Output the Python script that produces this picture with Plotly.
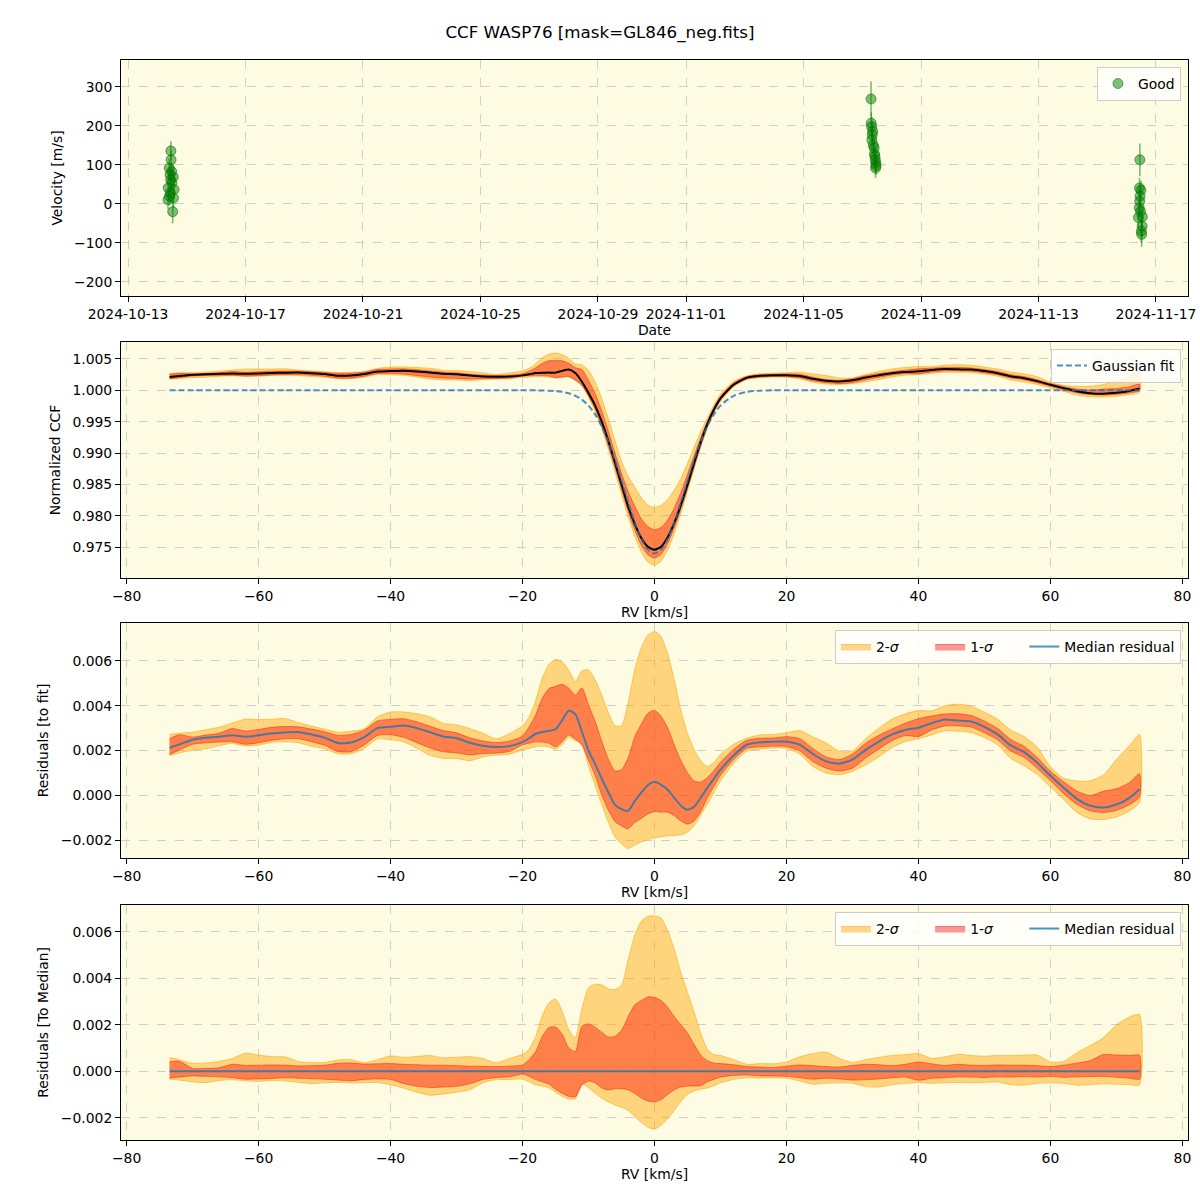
import plotly.graph_objects as go
from plotly.subplots import make_subplots

# ---------- RV time series (top panel) ----------
obs_time = [
    "2024-10-14 11:00", "2024-10-14 11:10", "2024-10-14 09:40", "2024-10-14 11:40",
    "2024-10-14 10:20", "2024-10-14 13:00", "2024-10-14 10:50", "2024-10-14 11:50",
    "2024-10-14 08:50", "2024-10-14 13:40", "2024-10-14 10:30", "2024-10-14 09:50",
    "2024-10-14 13:10", "2024-10-14 08:40", "2024-10-14 12:30",
    "2024-11-07 07:10", "2024-11-07 07:20", "2024-11-07 07:40", "2024-11-07 08:30",
    "2024-11-07 08:10", "2024-11-07 07:50", "2024-11-07 09:00", "2024-11-07 09:40",
    "2024-11-07 10:00", "2024-11-07 10:20", "2024-11-07 10:40", "2024-11-07 11:00",
    "2024-11-07 11:20", "2024-11-07 10:50",
    "2024-11-16 10:50", "2024-11-16 10:30", "2024-11-16 11:40", "2024-11-16 11:00",
    "2024-11-16 10:40", "2024-11-16 10:20", "2024-11-16 11:20", "2024-11-16 12:50",
    "2024-11-16 09:40", "2024-11-16 12:40", "2024-11-16 12:00", "2024-11-16 12:20",
]
obs_rv = [
    136, 113, 92, 83, 75, 69, 62, 54, 41, 37, 28, 20, 15, 11, -20,
    269, 207, 198, 186, 177, 164, 151, 143, 128, 122, 113, 105, 98, 92,
    113, 41, 35, 20, 7, -10, -19, -33, -35, -57, -70, -78,
]
obs_err = [
    25, 24, 24, 23, 24, 25, 24, 23, 25, 24, 23, 24, 25, 24, 30,
    45, 28, 26, 25, 24, 25, 24, 24, 23, 24, 24, 23, 24, 25,
    42, 26, 25, 24, 25, 24, 25, 26, 25, 28, 30, 32,
]

# ---------- CCF grid ----------
rv = [
    -73.5, -72, -70, -68, -66, -64, -62, -60, -58, -56, -54, -52, -50, -48,
    -46, -44, -42, -40, -38, -36, -34, -32, -30, -28, -26, -24, -22,
    -20, -19, -18, -17, -16, -15, -14, -13, -12, -11, -10, -9, -8, -7, -6,
    -5, -4, -3, -2, -1, 0, 1, 2, 3, 4, 5, 6, 7, 8, 9, 10,
    12, 14, 16, 18, 20, 22, 24, 26, 28, 30, 32, 34, 36, 38, 40, 42, 44, 46,
    48, 50, 52, 54, 56, 58, 60, 62, 64, 66, 68, 70, 72, 73.5,
]

gauss_fit = [
    1.0, 1.0, 1.0, 1.0, 1.0, 1.0, 1.0, 1.0, 1.0, 1.0, 1.0, 1.0, 1.0, 1.0,
    1.0, 1.0, 1.0, 1.0, 1.0, 1.0, 1.0, 1.0, 1.0, 1.0, 1.0, 1.0, 1.0,
    1.0, 1.0, 1.0, 0.99997, 0.99994, 0.99987, 0.99975, 0.99952, 0.99913, 0.99851,
    0.99756, 0.99617, 0.99427, 0.99184, 0.98890, 0.98560, 0.98219, 0.97898,
    0.97634, 0.97461, 0.97400, 0.97461, 0.97634, 0.97898, 0.98219, 0.98560,
    0.98890, 0.99184, 0.99427, 0.99617, 0.99756,
    0.99913, 0.99975, 0.99994, 1.0, 1.0, 1.0, 1.0, 1.0, 1.0, 1.0, 1.0, 1.0,
    1.0, 1.0, 1.0, 1.0, 1.0, 1.0, 1.0, 1.0, 1.0, 1.0, 1.0, 1.0, 1.0, 1.0,
    1.0, 1.0, 1.0, 1.0, 1.0, 1.0,
]

# median residual to the gaussian fit
res_median = [
    0.00212, 0.00228, 0.00248, 0.00257, 0.00262, 0.00268, 0.00262, 0.00268,
    0.00277, 0.00281, 0.00283, 0.00272, 0.00258, 0.00234, 0.00236, 0.00260,
    0.00300, 0.00306, 0.00312, 0.00300, 0.00282, 0.00263, 0.00255, 0.00235,
    0.00222, 0.00216, 0.00220,
    0.00238, 0.00255, 0.00275, 0.00283, 0.00288, 0.00295, 0.00335, 0.00378,
    0.00362, 0.00285, 0.00200, 0.00140, 0.00075, 0.00015, -0.00040, -0.00060,
    -0.00068, -0.00025, 0.00013, 0.00046, 0.00061, 0.00048, 0.00026, -0.00010,
    -0.00045, -0.00063, -0.00050, -0.00010, 0.00034, 0.00075, 0.00115,
    0.00178, 0.00226, 0.00237, 0.00240, 0.00240, 0.00227, 0.00185, 0.00152,
    0.00142, 0.00160, 0.00203, 0.00240, 0.00272, 0.00292, 0.00302, 0.00322,
    0.00338, 0.00334, 0.00330, 0.00306, 0.00272, 0.00223, 0.00193, 0.00146,
    0.00088, 0.00035, -0.00015, -0.00045, -0.00053, -0.00040, -0.00010, 0.00028,
]

# band edges relative to the median
hi2 = [
    0.00059, 0.00050, 0.00034, 0.00036, 0.00042, 0.00055, 0.00078, 0.00070,
    0.00063, 0.00062, 0.00042, 0.00037, 0.00038, 0.00048, 0.00050, 0.00037,
    0.00050, 0.00066, 0.00060, 0.00064, 0.00068, 0.00058, 0.00060, 0.00063,
    0.00055, 0.00036, 0.00055,
    0.00073, 0.00095, 0.00150, 0.00240, 0.00295, 0.00311, 0.00260, 0.00180,
    0.00145, 0.00270, 0.00359, 0.00375, 0.00372, 0.00355, 0.00352, 0.00370,
    0.00480, 0.00585, 0.00645, 0.00667, 0.00669, 0.00660, 0.00605, 0.00525,
    0.00425, 0.00340, 0.00255, 0.00165, 0.00095, 0.00072, 0.00068,
    0.00050, 0.00030, 0.00033, 0.00032, 0.00040, 0.00062, 0.00076, 0.00083,
    0.00055, 0.00038, 0.00050, 0.00060, 0.00068, 0.00072, 0.00076, 0.00055,
    0.00062, 0.00073, 0.00068, 0.00065, 0.00068, 0.00068, 0.00070, 0.00070,
    0.00040, 0.00042, 0.00080, 0.00110, 0.00144, 0.00200, 0.00234, 0.00244,
]
hi1 = [
    0.00041, 0.00043, 0.00012, 0.00012, 0.00015, 0.00030, 0.00025, 0.00026,
    0.00027, 0.00026, 0.00023, 0.00024, 0.00026, 0.00034, 0.00036, 0.00031,
    0.00032, 0.00033, 0.00030, 0.00028, 0.00026, 0.00026, 0.00024, 0.00022,
    0.00021, 0.00020, 0.00022,
    0.00027, 0.00050, 0.00085, 0.00150, 0.00188, 0.00191, 0.00160, 0.00100,
    0.00085, 0.00194, 0.00204, 0.00190, 0.00168, 0.00147, 0.00150, 0.00175,
    0.00235, 0.00285, 0.00305, 0.00320, 0.00318, 0.00305, 0.00275, 0.00235,
    0.00200, 0.00165, 0.00115, 0.00070, 0.00045, 0.00035, 0.00033,
    0.00028, 0.00020, 0.00018, 0.00016, 0.00022, 0.00027, 0.00024, 0.00020,
    0.00018, 0.00025, 0.00030, 0.00028, 0.00024, 0.00030, 0.00040, 0.00032,
    0.00025, 0.00030, 0.00026, 0.00025, 0.00027, 0.00026, 0.00026, 0.00024,
    0.00020, 0.00026, 0.00035, 0.00045, 0.00072, 0.00070, 0.00068, 0.00069,
]
lo1 = [
    -0.00030, -0.00025, -0.00020, -0.00022, -0.00024, -0.00028, -0.00034, -0.00033,
    -0.00031, -0.00028, -0.00030, -0.00032, -0.00034, -0.00038, -0.00041, -0.00035,
    -0.00033, -0.00035, -0.00053, -0.00065, -0.00070, -0.00068, -0.00065, -0.00054,
    -0.00035, -0.00027, -0.00024,
    -0.00012, -0.00022, -0.00036, -0.00045, -0.00055, -0.00078, -0.00095, -0.00108,
    -0.00110, -0.00060, -0.00042, -0.00050, -0.00072, -0.00080, -0.00075, -0.00075,
    -0.00080, -0.00095, -0.00115, -0.00128, -0.00132, -0.00122, -0.00100, -0.00080,
    -0.00068, -0.00064, -0.00063, -0.00062, -0.00045, -0.00035, -0.00025,
    -0.00018, -0.00016, -0.00020, -0.00020, -0.00022, -0.00028, -0.00034, -0.00030,
    -0.00033, -0.00038, -0.00036, -0.00033, -0.00028, -0.00025, -0.00039, -0.00030,
    -0.00028, -0.00024, -0.00025, -0.00027, -0.00024, -0.00025, -0.00023, -0.00025,
    -0.00022, -0.00026, -0.00024, -0.00023, -0.00022, -0.00026, -0.00030, -0.00034,
]
lo2 = [
    -0.00034, -0.00038, -0.00046, -0.00049, -0.00040, -0.00036, -0.00041, -0.00044,
    -0.00040, -0.00042, -0.00048, -0.00053, -0.00050, -0.00048, -0.00050, -0.00050,
    -0.00048, -0.00058, -0.00073, -0.00090, -0.00103, -0.00098, -0.00090, -0.00080,
    -0.00050, -0.00036, -0.00036,
    -0.00034, -0.00045, -0.00058, -0.00064, -0.00072, -0.00090, -0.00108, -0.00120,
    -0.00118, -0.00055, -0.00070, -0.00095, -0.00115, -0.00132, -0.00145, -0.00155,
    -0.00168, -0.00195, -0.00220, -0.00242, -0.00249, -0.00232, -0.00205, -0.00168,
    -0.00130, -0.00100, -0.00085, -0.00077, -0.00072, -0.00062, -0.00050,
    -0.00035, -0.00028, -0.00030, -0.00028, -0.00030, -0.00042, -0.00056, -0.00052,
    -0.00050, -0.00052, -0.00066, -0.00068, -0.00058, -0.00052, -0.00049, -0.00052,
    -0.00050, -0.00048, -0.00050, -0.00048, -0.00046, -0.00058, -0.00060, -0.00052,
    -0.00050, -0.00052, -0.00060, -0.00058, -0.00054, -0.00056, -0.00058, -0.00059,
]

# ---------- derived curves ----------
res_lo2 = [m + d for m, d in zip(res_median, lo2)]
res_lo1 = [m + d for m, d in zip(res_median, lo1)]
res_hi1 = [m + d for m, d in zip(res_median, hi1)]
res_hi2 = [m + d for m, d in zip(res_median, hi2)]

ccf_median = [g + r for g, r in zip(gauss_fit, res_median)]
ccf_lo2 = [g + r for g, r in zip(gauss_fit, res_lo2)]
ccf_lo1 = [g + r for g, r in zip(gauss_fit, res_lo1)]
ccf_hi1 = [g + r for g, r in zip(gauss_fit, res_hi1)]
ccf_hi2 = [g + r for g, r in zip(gauss_fit, res_hi2)]

med_zero = [m - m for m in res_median]

FONT = "DejaVu Sans"
BG = "#fdfbe2"
C2 = "rgba(255,165,0,0.45)"
C2_EDGE = "rgba(255,165,0,0.55)"
C1 = "rgba(255,0,0,0.40)"
C1_EDGE = "rgba(240,40,20,0.55)"
BLUE = "rgba(31,119,180,0.8)"
PAD = "\u00a0" * 6


def band(lo, hi, fill, edge, name, show, legend):
    return go.Scatter(
        x=rv + rv[::-1],
        y=hi + lo[::-1],
        fill="toself",
        fillcolor=fill,
        line=dict(color=edge, width=1, shape="spline", smoothing=0.6),
        mode="lines",
        name=name,
        showlegend=show,
        legend=legend,
        hoverinfo="skip",
    )


fig = make_subplots(rows=4, cols=1)

# ---------- panel 1 ----------
fig.add_trace(go.Scatter(
    x=obs_time, y=obs_rv, mode="markers", name="Good", legend="legend",
    error_y=dict(type="data", array=obs_err, color="rgba(0,128,0,0.5)",
                 thickness=1.6, width=0),
    marker=dict(color="rgba(0,128,0,0.5)", size=10,
                line=dict(color="rgba(0,110,0,0.55)", width=1)),
), row=1, col=1)

# ---------- panel 2 ----------
fig.add_trace(band(ccf_lo2, ccf_hi2, C2, C2_EDGE, "2-σ", False, "legend2"), row=2, col=1)
fig.add_trace(band(ccf_lo1, ccf_hi1, C1, C1_EDGE, "1-σ", False, "legend2"), row=2, col=1)
fig.add_trace(go.Scatter(
    x=rv, y=ccf_median, mode="lines", name="Median CCF", showlegend=False,
    line=dict(color="black", width=2, shape="spline", smoothing=0.6),
), row=2, col=1)
fig.add_trace(go.Scatter(
    x=rv, y=gauss_fit, mode="lines", name="Gaussian fit", legend="legend2",
    line=dict(color=BLUE, width=2, dash="6px,3px", shape="spline", smoothing=0.8),
), row=2, col=1)

# ---------- panel 3 ----------
fig.add_trace(band(res_lo2, res_hi2, C2, C2_EDGE, "2-<i>σ</i>" + PAD, True, "legend3"), row=3, col=1)
fig.add_trace(band(res_lo1, res_hi1, C1, C1_EDGE, "1-<i>σ</i>" + PAD, True, "legend3"), row=3, col=1)
fig.add_trace(go.Scatter(
    x=rv, y=res_median, mode="lines", name="Median residual", legend="legend3",
    line=dict(color=BLUE, width=2, shape="spline", smoothing=0.6),
), row=3, col=1)

# ---------- panel 4 ----------
fig.add_trace(band(lo2, hi2, C2, C2_EDGE, "2-<i>σ</i>" + PAD, True, "legend4"), row=4, col=1)
fig.add_trace(band(lo1, hi1, C1, C1_EDGE, "1-<i>σ</i>" + PAD, True, "legend4"), row=4, col=1)
fig.add_trace(go.Scatter(
    x=rv, y=med_zero, mode="lines", name="Median residual", legend="legend4",
    line=dict(color=BLUE, width=2),
), row=4, col=1)

axis_common = dict(
    showline=True, linecolor="black", linewidth=1, mirror=True,
    ticks="outside", ticklen=5, tickcolor="black", automargin=False,
    showgrid=True, gridcolor="#cfcfcf", griddash="dash", gridwidth=1,
    zeroline=False, tickfont=dict(size=13.9, color="black"),
    title_font=dict(size=13.9, color="black"),
)

# plot area (px): x 121..1188, y 60..1140
domains_y = [[0.7815, 1.0], [0.5204, 0.7389], [0.2611, 0.4787], [0.0, 0.2176]]
for i in range(4):
    fig.update_xaxes(axis_common, domain=[0.0, 1.0], row=i + 1, col=1)
    fig.update_yaxes(axis_common, domain=domains_y[i], row=i + 1, col=1)

fig.update_xaxes(
    type="date", range=["2024-10-12 18:15", "2024-11-18 02:10"],
    tickvals=["2024-10-13", "2024-10-17", "2024-10-21", "2024-10-25", "2024-10-29",
              "2024-11-01", "2024-11-05", "2024-11-09", "2024-11-13", "2024-11-17"],
    tickformat="%Y-%m-%d", title_text="Date", title_standoff=2, row=1, col=1)
fig.update_yaxes(range=[-236, 369], dtick=100, title_text="Velocity [m/s]",
                 title_standoff=8, row=1, col=1)

for r in (2, 3, 4):
    fig.update_xaxes(range=[-80.85, 80.85], tick0=0, dtick=20,
                     title_text="RV [km/s]", title_standoff=2, row=r, col=1)

fig.update_yaxes(range=[0.9701, 1.0077], tick0=1.0, dtick=0.005, tickformat=".3f",
                 title_text="Normalized CCF", title_standoff=8, row=2, col=1)
fig.update_yaxes(range=[-0.00278, 0.00768], tick0=0, dtick=0.002, tickformat=".3f",
                 title_text="Residuals [to fit]", title_standoff=8, row=3, col=1)
fig.update_yaxes(range=[-0.00296, 0.00716], tick0=0, dtick=0.002, tickformat=".3f",
                 title_text="Residuals [To Median]", title_standoff=8, row=4, col=1)

legend_common = dict(
    bgcolor="rgba(255,255,255,0.8)", bordercolor="#cccccc", borderwidth=1,
    font=dict(size=13.9, color="black", family=FONT),
    xanchor="right", yanchor="top", x=0.9934,
)

fig.update_layout(
    width=1200, height=1200,
    margin=dict(l=121, r=12, t=60, b=60, autoexpand=False),
    paper_bgcolor="white",
    plot_bgcolor=BG,
    font=dict(family=FONT, color="black"),
    title=dict(text="CCF WASP76 [mask=GL846_neg.fits]", x=0.5, xanchor="center",
               y=1 - 32 / 1200, yanchor="middle", font=dict(size=16.7)),
    legend=dict(legend_common, y=1 - 7 / 1080),
    legend2=dict(legend_common, y=1 - 289 / 1080),
    legend3=dict(legend_common, y=1 - 570 / 1080, orientation="h"),
    legend4=dict(legend_common, y=1 - 852 / 1080, orientation="h"),
)

# drop the default page margin so the 1200x1200 figure fills the window
fig.write_html("out.html", config={"displayModeBar": False},
               post_script="document.body.style.margin = '0';")
